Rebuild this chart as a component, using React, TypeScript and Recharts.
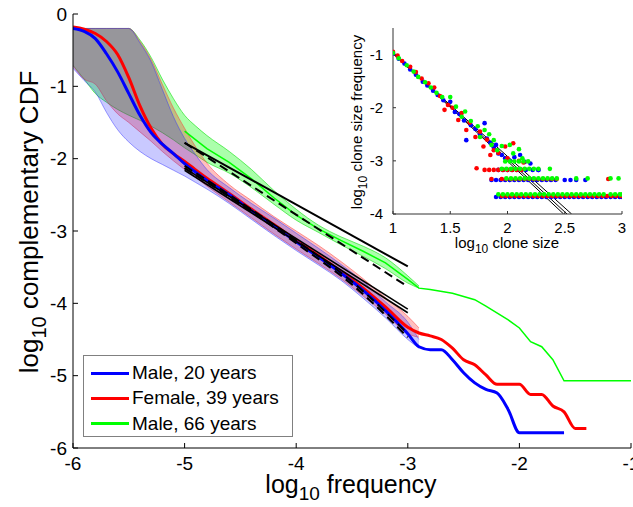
import React from 'react';
import { ComposedChart, Area, Line, Scatter, XAxis, YAxis, CartesianGrid } from 'recharts';

const FONT = '"Liberation Sans", Arial, Helvetica, sans-serif';

// ---------- main chart data ----------
const mainXTicks = [-6, -5, -4, -3, -2, -1];
const mainYTicks = [-6, -5, -4, -3, -2, -1, 0];

const bandX = [-6, -5.9, -5.8, -5.7, -5.6, -5.5, -5.4, -5.3, -5.2, -5.1, -5.0, -4.9, -4.8, -4.6, -4.4, -4.2, -4.0, -3.8, -3.6, -3.4, -3.2, -3.0, -2.9];
const blueBandLo = [-0.75, -0.92, -1.08, -1.36, -1.6, -1.77, -1.9, -2.0, -2.08, -2.16, -2.24, -2.33, -2.42, -2.62, -2.84, -3.06, -3.27, -3.47, -3.68, -3.93, -4.2, -4.5, -4.62];
const blueBandHi = [-0.2, -0.2, -0.2, -0.2, -0.2, -0.2, -0.4, -0.66, -1.04, -1.42, -1.72, -1.95, -2.15, -2.4, -2.62, -2.82, -3.03, -3.24, -3.46, -3.7, -3.98, -4.26, -4.5];
const redBandLo = [-0.72, -0.9, -0.97, -1.2, -1.38, -1.5, -1.63, -1.76, -1.9, -2.03, -2.15, -2.26, -2.38, -2.6, -2.82, -3.04, -3.25, -3.45, -3.66, -3.9, -4.15, -4.42, -4.47];
const redBandHi = [-0.2, -0.2, -0.2, -0.2, -0.2, -0.2, -0.38, -0.63, -0.97, -1.3, -1.58, -1.84, -2.06, -2.36, -2.58, -2.8, -3.0, -3.2, -3.42, -3.66, -3.92, -4.18, -4.34];
const greenBandLo = [-0.71, -0.9, -1.1, -1.22, -1.32, -1.4, -1.47, -1.55, -1.64, -1.74, -1.85, -1.95, -2.05, -2.2, -2.4, -2.63, -2.85, -3.02, -3.19, -3.35, -3.52, -3.72, -3.79];
const greenBandHi = [-0.2, -0.2, -0.2, -0.2, -0.2, -0.2, -0.36, -0.6, -0.9, -1.17, -1.4, -1.55, -1.68, -1.9, -2.15, -2.44, -2.7, -2.92, -3.08, -3.21, -3.37, -3.62, -3.76];

const blueX = [-6, -5.9, -5.8, -5.7, -5.6, -5.5, -5.4, -5.3, -5.2, -5.1, -5.0, -4.8, -4.6, -4.4, -4.2, -4.0, -3.8, -3.6, -3.4, -3.2, -3.0, -2.9, -2.8, -2.7, -2.6, -2.5, -2.4, -2.3, -2.2, -2.1, -2.0, -1.6];
const blueY = [-0.2, -0.24, -0.34, -0.55, -0.8, -1.1, -1.4, -1.64, -1.8, -1.93, -2.07, -2.3, -2.5, -2.72, -2.93, -3.15, -3.36, -3.58, -3.82, -4.1, -4.42, -4.6, -4.64, -4.64, -4.78, -4.96, -5.1, -5.19, -5.24, -5.47, -5.79, -5.79];
const redX = [-6, -5.9, -5.8, -5.7, -5.6, -5.5, -5.4, -5.3, -5.2, -5.1, -5.0, -4.8, -4.6, -4.4, -4.2, -4.0, -3.8, -3.6, -3.4, -3.2, -3.0, -2.9, -2.8, -2.7, -2.6, -2.5, -2.4, -2.3, -2.2, -2.0, -1.9, -1.8, -1.7, -1.6, -1.5, -1.4];
const redY = [-0.18, -0.21, -0.27, -0.38, -0.56, -0.88, -1.27, -1.58, -1.8, -1.93, -2.04, -2.27, -2.48, -2.7, -2.91, -3.13, -3.34, -3.56, -3.79, -4.05, -4.33, -4.41, -4.45, -4.5, -4.62, -4.78, -4.85, -4.99, -5.12, -5.12, -5.26, -5.26, -5.42, -5.5, -5.73, -5.73];
const greenX = [-5.0, -4.8, -4.6, -4.4, -4.2, -4.0, -3.8, -3.6, -3.4, -3.2, -3.0, -2.9, -2.8, -2.6, -2.4, -2.3, -2.1, -2.0, -1.9, -1.8, -1.7, -1.6, -1.0];
const greenY = [-1.62, -1.86, -2.05, -2.28, -2.54, -2.78, -2.97, -3.13, -3.28, -3.44, -3.67, -3.79, -3.81, -3.86, -3.95, -4.04, -4.23, -4.34, -4.53, -4.6, -4.78, -5.07, -5.07];

const fitX = [-5, -3];
const fitUpperSolid = [-1.78, -3.49];
const fitUpperDashed = [-1.78, -3.77];
const fitLowerSolidA = [-2.13, -4.08];
const fitLowerSolidB = [-2.16, -4.13];
const fitCurveX = [-5, -4.5, -4, -3.5, -3];
const fitLowerDashedA = [-2.1, -2.6, -3.13, -3.7, -4.42];
const fitLowerDashedB = [-2.13, -2.63, -3.17, -3.74, -4.47];

const legendLabels = ['Male, 20 years', 'Female, 39 years', 'Male, 66 years'];
const seriesColors = ['#0000ff', '#ff0000', '#00ff00'];

// ---------- inset data ----------
const insetXTicks = [1, 1.5, 2, 2.5, 3];
const insetYTicks = [-4, -3, -2, -1];

const blueCloud = [[1.0, -0.98], [1.05, -1.08], [1.1, -1.17], [1.15, -1.28], [1.2, -1.38], [1.26, -1.51], [1.3, -1.58], [1.35, -1.68], [1.39, -1.76], [1.44, -1.86], [1.5, -1.89], [1.54, -2.08], [1.58, -2.12], [1.62, -2.24], [1.64, -2.61], [1.68, -2.33], [1.72, -2.4], [1.76, -2.5], [1.8, -2.29], [1.82, -2.58], [1.85, -2.66], [1.88, -2.75], [1.9, -2.7], [1.92, -2.86], [1.95, -2.89], [1.98, -2.95], [2.02, -3.0], [2.06, -2.93], [2.11, -2.89], [2.15, -3.02], [2.2, -3.05], [2.27, -3.17]];
const redCloud = [[1.0, -0.95], [1.04, -1.02], [1.08, -1.12], [1.15, -1.23], [1.2, -1.33], [1.25, -1.45], [1.31, -1.54], [1.36, -1.62], [1.41, -1.78], [1.45, -2.04], [1.48, -1.95], [1.52, -2.0], [1.57, -2.23], [1.6, -2.1], [1.64, -2.42], [1.67, -2.28], [1.72, -2.55], [1.73, -3.14], [1.76, -2.45], [1.79, -2.73], [1.82, -2.6], [1.85, -2.89], [1.88, -2.8], [1.92, -2.85], [1.98, -2.73], [2.0, -2.95], [2.05, -2.67], [2.1, -3.0], [2.14, -3.03]];
const greenCloud = [[1.0, -0.97], [1.05, -1.07], [1.12, -1.2], [1.18, -1.32], [1.22, -1.42], [1.28, -1.52], [1.33, -1.62], [1.38, -1.72], [1.43, -1.8], [1.5, -1.8], [1.55, -1.98], [1.6, -2.17], [1.63, -2.07], [1.68, -2.25], [1.74, -2.35], [1.76, -2.55], [1.8, -2.42], [1.84, -2.5], [1.86, -2.7], [1.88, -2.61], [1.91, -2.8], [1.95, -2.72], [2.02, -2.7], [2.05, -2.86], [2.1, -2.78], [2.13, -2.95]];

const blueRowLowY = -3.68;
const blueRowLowX = [1.9, 1.94, 1.98, 2.02, 2.06, 2.1, 2.14, 2.18, 2.22, 2.26, 2.3, 2.34, 2.38, 2.42, 2.46, 2.5, 2.54, 2.58, 2.62, 2.66, 2.7, 2.74, 2.78, 2.82, 2.86, 2.9, 2.94, 2.98, 3.0];
const redRowLowY = -3.66;
const redRowLowX = [1.95, 1.99, 2.03, 2.07, 2.11, 2.15, 2.19, 2.23, 2.27, 2.31, 2.35, 2.39, 2.43, 2.47, 2.51, 2.55, 2.59, 2.63, 2.67, 2.71, 2.75, 2.79, 2.83, 2.87, 2.91, 2.95, 2.99];
const greenRowLowY = -3.63;
const greenRowLowX = [1.92, 1.96, 2.0, 2.04, 2.08, 2.12, 2.16, 2.2, 2.24, 2.28, 2.32, 2.36, 2.4, 2.44, 2.48, 2.52, 2.56, 2.6, 2.64, 2.68, 2.72, 2.76, 2.8, 2.84, 2.9, 2.94, 2.98, 3.0];

const blueRowMidY = -3.36;
const blueRowMidX = [1.86, 1.9, 1.94, 1.98, 2.02, 2.06, 2.1, 2.14, 2.18, 2.22, 2.26, 2.3, 2.34, 2.38, 2.42, 2.5, 2.55, 2.6, 2.68];
const redRowMidY = -3.34;
const redRowMidX = [1.86, 1.95, 1.99, 2.03, 2.07, 2.11, 2.15, 2.19, 2.23, 2.27, 2.31, 2.35, 2.39, 2.43, 2.88];
const greenRowMidY = -3.33;
const greenRowMidX = [1.99, 2.03, 2.07, 2.11, 2.15, 2.19, 2.23, 2.27, 2.31, 2.35, 2.39, 2.43, 2.6, 2.7, 2.9, 2.97];

const blueRowHiY = -3.17;
const blueRowHiX = [1.92, 1.96, 2.0, 2.04, 2.08, 2.12, 2.16, 2.22, 2.27];
const redRowHiY = -3.17;
const redRowHiX = [1.8, 1.84, 1.88, 1.92, 1.96, 2.0, 2.04, 2.08, 2.12];
const greenRowHiY = -3.15;
const greenRowHiX = [1.95, 1.99, 2.03, 2.07, 2.11, 2.15, 2.19, 2.23, 2.27, 2.37];
const greenRowTopY = -3.01;
const greenRowTopX = [1.98, 2.02, 2.06, 2.1, 2.14, 2.18];

const insetFitX = [1, 2.49, 2.52, 2.56];
const insetFitStartY = [-0.98, -0.98, -0.98];
const insetFitEndY = [-4, -4, -4];

// ---------- builders ----------
const mkBand = (xs: number[], lo: number[], hi: number[]) => xs.map((x, i) => ({ x, r: [lo[i], hi[i]] }));
const mkLine = (xs: number[], ys: number[]) => xs.map((x, i) => ({ x, y: ys[i] }));
const mkRow = (xs: number[], y: number) => xs.map((x) => ({ x, y }));
const mkPts = (pts: number[][]) => pts.map(([x, y]) => ({ x, y }));

const blueBand = mkBand(bandX, blueBandLo, blueBandHi);
const redBand = mkBand(bandX, redBandLo, redBandHi);
const greenBand = mkBand(bandX, greenBandLo, greenBandHi);

const blueScatter = [...mkPts(blueCloud), ...mkRow(blueRowLowX, blueRowLowY), ...mkRow(blueRowMidX, blueRowMidY), ...mkRow(blueRowHiX, blueRowHiY)];
const redScatter = [...mkPts(redCloud), ...mkRow(redRowLowX, redRowLowY), ...mkRow(redRowMidX, redRowMidY), ...mkRow(redRowHiX, redRowHiY)];
const greenScatter = [...mkPts(greenCloud), ...mkRow(greenRowLowX, greenRowLowY), ...mkRow(greenRowMidX, greenRowMidY), ...mkRow(greenRowHiX, greenRowHiY), ...mkRow(greenRowTopX, greenRowTopY)];

const insetFits = [0, 1, 2].map((i) => [
  { x: insetFitX[0], y: insetFitStartY[i] },
  { x: insetFitX[i + 1], y: insetFitEndY[i] },
]);

const mainTick = { fill: '#000', fontSize: 19, fontFamily: FONT };
const insetTick = { fill: '#000', fontSize: 15, fontFamily: FONT };
const blank = () => '';

const dot = (color: string) => (p: any) =>
  p.cx == null ? <g /> : <circle cx={p.cx} cy={p.cy} r={2.3} fill={color} />;

function MainChart() {
  return (
    <ComposedChart width={633} height={507} margin={{ top: 14, right: 2, bottom: 0, left: 0 }}>
      <XAxis xAxisId="b" type="number" dataKey="x" domain={[-6, -1]} ticks={mainXTicks} allowDataOverflow
        height={59} tickSize={-5} tickMargin={14} tick={mainTick} stroke="#000" interval={0} />
      <XAxis xAxisId="t" orientation="top" type="number" dataKey="x" domain={[-6, -1]} ticks={mainXTicks} allowDataOverflow
        height={0} tickSize={-5} tickFormatter={blank} stroke="#000" interval={0} />
      <YAxis yAxisId="l" type="number" domain={[-6, 0]} ticks={mainYTicks} allowDataOverflow
        width={73} tickSize={-5} tickMargin={11} tick={mainTick} stroke="#000" interval={0} />
      <YAxis yAxisId="r" orientation="right" type="number" domain={[-6, 0]} ticks={mainYTicks} allowDataOverflow
        width={0} tickSize={-5} tickFormatter={blank} stroke="#000" interval={0} />

      <Area xAxisId="b" yAxisId="l" data={greenBand} dataKey="r" type="monotone" fill="#00ff00" fillOpacity={0.33}
        stroke="#00dd00" strokeOpacity={0.7} strokeWidth={0.8} isAnimationActive={false} dot={false} activeDot={false} />
      <Area xAxisId="b" yAxisId="l" data={redBand} dataKey="r" type="monotone" fill="#ff0000" fillOpacity={0.25}
        stroke="#ff3030" strokeOpacity={0.6} strokeWidth={0.8} isAnimationActive={false} dot={false} activeDot={false} />
      <Area xAxisId="b" yAxisId="l" data={blueBand} dataKey="r" type="monotone" fill="#0000ff" fillOpacity={0.21}
        stroke="#3030ff" strokeOpacity={0.6} strokeWidth={0.8} isAnimationActive={false} dot={false} activeDot={false} />

      <Line xAxisId="b" yAxisId="l" data={mkLine(greenX, greenY)} dataKey="y" type="linear" stroke="#00ff00" strokeWidth={1.5}
        dot={false} activeDot={false} isAnimationActive={false} />
      <Line xAxisId="b" yAxisId="l" data={mkLine(redX, redY)} dataKey="y" type="monotone" stroke="#ff0000" strokeWidth={3}
        dot={false} activeDot={false} isAnimationActive={false} />
      <Line xAxisId="b" yAxisId="l" data={mkLine(blueX, blueY)} dataKey="y" type="monotone" stroke="#0000ff" strokeWidth={3}
        dot={false} activeDot={false} isAnimationActive={false} />

      <Line xAxisId="b" yAxisId="l" data={mkLine(fitX, fitUpperSolid)} dataKey="y" stroke="#000" strokeWidth={2}
        dot={false} activeDot={false} isAnimationActive={false} />
      <Line xAxisId="b" yAxisId="l" data={mkLine(fitX, fitUpperDashed)} dataKey="y" stroke="#000" strokeWidth={2} strokeDasharray="9 5"
        dot={false} activeDot={false} isAnimationActive={false} />
      <Line xAxisId="b" yAxisId="l" data={mkLine(fitX, fitLowerSolidA)} dataKey="y" stroke="#000" strokeWidth={1.6}
        dot={false} activeDot={false} isAnimationActive={false} />
      <Line xAxisId="b" yAxisId="l" data={mkLine(fitX, fitLowerSolidB)} dataKey="y" stroke="#000" strokeWidth={1.6}
        dot={false} activeDot={false} isAnimationActive={false} />
      <Line xAxisId="b" yAxisId="l" data={mkLine(fitCurveX, fitLowerDashedA)} dataKey="y" type="monotone" stroke="#000" strokeWidth={2} strokeDasharray="9 5"
        dot={false} activeDot={false} isAnimationActive={false} />
      <Line xAxisId="b" yAxisId="l" data={mkLine(fitCurveX, fitLowerDashedB)} dataKey="y" type="monotone" stroke="#000" strokeWidth={2} strokeDasharray="9 5"
        dot={false} activeDot={false} isAnimationActive={false} />
    </ComposedChart>
  );
}

function InsetChart() {
  return (
    <ComposedChart width={290} height={241} margin={{ top: 9, right: 8, bottom: 0, left: 0 }}>
      <CartesianGrid xAxisId="b" yAxisId="l" horizontal={false} vertical={false} fill="#ffffff" fillOpacity={1} />
      <XAxis xAxisId="b" type="number" dataKey="x" domain={[1, 3]} ticks={insetXTicks} allowDataOverflow
        height={46} tickSize={-3} tickMargin={11} tick={insetTick} stroke="#333" interval={0} />
      <XAxis xAxisId="t" orientation="top" type="number" dataKey="x" domain={[1, 3]} ticks={insetXTicks} allowDataOverflow
        height={0} tickSize={-3} tickFormatter={blank} stroke="#333" interval={0} />
      <YAxis yAxisId="l" type="number" dataKey="y" domain={[-4, -0.5]} ticks={insetYTicks} allowDataOverflow
        width={53} tickSize={-3} tickMargin={13} tick={insetTick} stroke="#333" interval={0} />
      <YAxis yAxisId="r" orientation="right" type="number" domain={[-4, -0.5]} ticks={insetYTicks} allowDataOverflow
        width={0} tickSize={-3} tickFormatter={blank} stroke="#333" interval={0} />

      <Scatter xAxisId="b" yAxisId="l" data={blueScatter} dataKey="y" shape={dot('#0000ff')} isAnimationActive={false} />
      <Scatter xAxisId="b" yAxisId="l" data={redScatter} dataKey="y" shape={dot('#ff0000')} isAnimationActive={false} />
      <Scatter xAxisId="b" yAxisId="l" data={greenScatter} dataKey="y" shape={dot('#00ff00')} isAnimationActive={false} />

      {insetFits.map((d, i) => (
        <Line key={i} xAxisId="b" yAxisId="l" data={d} dataKey="y" stroke="#000" strokeWidth={1}
          dot={false} activeDot={false} isAnimationActive={false} />
      ))}
    </ComposedChart>
  );
}

function Legend() {
  return (
    <div style={{ position: 'absolute', left: 83, top: 355, width: 208, height: 80, border: '1px solid #808080', background: '#fff', fontFamily: FONT, fontSize: 19, color: '#000' }}>
      {legendLabels.map((lab, i) => (
        <div key={lab} style={{ position: 'absolute', left: 0, top: 6 + i * 25.3, height: 22, width: 208 }}>
          <div style={{ position: 'absolute', left: 7, top: 9.5, width: 38, height: 3, background: seriesColors[i] }} />
          <div style={{ position: 'absolute', left: 48, top: 0, lineHeight: '22px', whiteSpace: 'nowrap' }}>{lab}</div>
        </div>
      ))}
    </div>
  );
}

function Labels() {
  return (
    <svg width={633} height={507} style={{ position: 'absolute', left: 0, top: 0, pointerEvents: 'none' }}>
      <text x={351} y={493} textAnchor="middle" fontFamily={FONT} fontSize={25} fill="#000">
        log<tspan fontSize={19} dy={7}>10</tspan><tspan dy={-7}> frequency</tspan>
      </text>
      <text transform="rotate(-90)" x={-222} y={38} textAnchor="middle" fontFamily={FONT} fontSize={26} fill="#000">
        log<tspan fontSize={20} dy={8}>10</tspan><tspan dy={-8}> complementary CDF</tspan>
      </text>
      <text x={507} y={248} textAnchor="middle" fontFamily={FONT} fontSize={15} fill="#000">
        log<tspan fontSize={12} dy={5}>10</tspan><tspan dy={-5}> clone size</tspan>
      </text>
      <text transform="rotate(-90)" x={-122} y={362} textAnchor="middle" fontFamily={FONT} fontSize={15} fill="#000">
        log<tspan fontSize={12} dy={5}>10</tspan><tspan dy={-5}> clone size frequency</tspan>
      </text>
    </svg>
  );
}

export default function App() {
  return (
    <div style={{ position: 'absolute', left: 0, top: 0, width: 633, height: 507, background: '#fff', overflow: 'hidden' }}>
      <div style={{ position: 'absolute', left: 0, top: 0 }}>
        <MainChart />
      </div>
      <Legend />
      <div style={{ position: 'absolute', left: 340, top: 19 }}>
        <InsetChart />
      </div>
      <Labels />
    </div>
  );
}
